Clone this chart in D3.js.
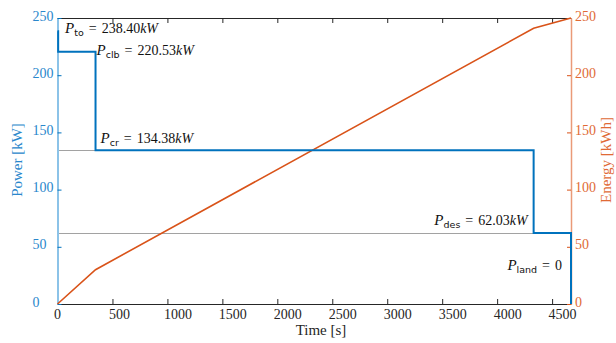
<!DOCTYPE html>
<html>
<head>
<meta charset="utf-8">
<script src="https://cdn.jsdelivr.net/npm/d3@7"></script>
<style>
  body { margin: 0; background: #fff; }
  svg text { font-family: "Liberation Serif", "Times New Roman", serif !important; }
  svg text tspan.sub { font-family: "DejaVu Sans", sans-serif !important; }
</style>
</head>
<body>
<div id="chart"></div>
<script>
// mission segments: takeoff, climb, cruise, descent, landing
const segStart = [0, 6, 346, 4332, 4672];
const segEnd = [6, 346, 4332, 4672, 4672];
const segPower = [238.40, 220.53, 134.38, 62.03, 0];
const segNames = ['to', 'clb', 'cr', 'des', 'land'];
const segLabels = ['238.40', '220.53', '134.38', '62.03', '0'];

// cumulative energy read at the segment breakpoints
const energyTime = [0, 346, 4332, 4672];
const energyValue = [0, 30, 241, 250];

const xTicks = [0, 500, 1000, 1500, 2000, 2500, 3000, 3500, 4000, 4500];
const yTicks = [0, 50, 100, 150, 200, 250];

const W = 616, H = 343;
const margin = { top: 18, right: 45, bottom: 39, left: 57.5 };
const blue = '#0072BD', orange = '#D95319', axisGray = '#262626';

const svg = d3.select('#chart').append('svg')
  .attr('width', W).attr('height', H);

const x = d3.scaleLinear().domain([0, 4672]).range([margin.left, W - margin.right]);
const yP = d3.scaleLinear().domain([0, 250]).range([H - margin.bottom, margin.top]);
const yE = d3.scaleLinear().domain([0, 250]).range([H - margin.bottom, margin.top]);

// power step line
const powerPts = [];
segPower.forEach((p, i) => {
  powerPts.push([segStart[i], p]);
  powerPts.push([segEnd[i], p]);
});

// dotted reference lines for cruise and descent
[2, 3].forEach(i => {
  svg.append('line')
    .attr('x1', x(0)).attr('x2', x(segStart[i]))
    .attr('y1', Math.round(yP(segPower[i])) + 0.5).attr('y2', Math.round(yP(segPower[i])) + 0.5)
    .attr('stroke', '#444').attr('stroke-width', 1)
    .attr('stroke-dasharray', '1,1');
});

// axes
const gBottom = svg.append('g')
  .attr('transform', `translate(0,${H - margin.bottom})`)
  .call(d3.axisBottom(x).tickValues(xTicks).tickSizeInner(-5).tickSizeOuter(0).tickFormat(d3.format('d')));
gBottom.select('.domain').attr('stroke', axisGray);
gBottom.selectAll('.tick line').attr('stroke', axisGray);
gBottom.selectAll('text')
  .attr('fill', axisGray).attr('font-size', 14)
  .attr('text-anchor', 'start').attr('x', -4).attr('y', 0).attr('dy', 15);

const gTop = svg.append('g')
  .attr('transform', `translate(0,${margin.top})`)
  .call(d3.axisTop(x).tickValues(xTicks).tickSizeInner(-5).tickSizeOuter(0).tickFormat(''));
gTop.select('.domain').attr('stroke', axisGray);
gTop.selectAll('.tick line').attr('stroke', axisGray);

const gLeft = svg.append('g')
  .attr('transform', `translate(${margin.left},0)`)
  .call(d3.axisLeft(yP).tickValues(yTicks).tickSizeInner(-4).tickSizeOuter(0));
gLeft.select('.domain').attr('stroke', '#8cc3e8').attr('stroke-width', 2);
gLeft.selectAll('.tick line').attr('stroke', blue);
gLeft.selectAll('text')
  .attr('fill', '#2a87cc').attr('font-size', 14)
  .attr('text-anchor', 'start').attr('x', -25).attr('dy', '0.15em');

const gRight = svg.append('g')
  .attr('transform', `translate(${W - margin.right},0)`)
  .call(d3.axisRight(yE).tickValues(yTicks).tickSizeInner(-4).tickSizeOuter(0));
gRight.select('.domain').attr('stroke', '#ea9a78').attr('stroke-width', 1.5);
gRight.selectAll('.tick line').attr('stroke', orange);
gRight.selectAll('text')
  .attr('fill', '#e06a35').attr('font-size', 14)
  .attr('text-anchor', 'start').attr('x', 4).attr('dy', '0.15em');

// energy line
svg.append('path')
  .datum(energyTime.map((t, i) => [t, energyValue[i]]))
  .attr('fill', 'none').attr('stroke', orange).attr('stroke-width', 1.6)
  .attr('d', d3.line().x(d => x(d[0])).y(d => yE(d[1])));

// power line
svg.append('path')
  .datum(powerPts)
  .attr('fill', 'none').attr('stroke', blue).attr('stroke-width', 2)
  .attr('d', d3.line().x(d => x(d[0])).y(d => yP(d[1])));

// annotations: anchor point in data space + pixel offset
const labelPos = [
  { t: segStart[0], p: segPower[0], dx: 7.5, dy: 2, anchor: 'start' },
  { t: segEnd[1], p: segPower[1], dx: 1, dy: 3.5, anchor: 'start' },
  { t: segStart[2], p: segPower[2], dx: 5, dy: -7.5, anchor: 'start' },
  { t: segStart[3], p: segPower[3], dx: -6, dy: -8, anchor: 'end' },
  { t: segStart[4], p: segPower[3] / 2, dx: -9, dy: 1, anchor: 'end' }
];
labelPos.forEach((l, i) => {
  const t = svg.append('text')
    .attr('x', x(l.t) + l.dx)
    .attr('y', yP(l.p) + l.dy)
    .attr('text-anchor', l.anchor)
    .attr('font-size', 14)
    .attr('fill', '#111');
  t.append('tspan').attr('font-style', 'italic').attr('font-size', 15).text('P');
  t.append('tspan').attr('class', 'sub').attr('font-size', 9.5).attr('dy', 3).text(segNames[i]);
  t.append('tspan').attr('dy', -3).attr('dx', 5).text('=');
  t.append('tspan').attr('dx', 5).text(segLabels[i]);
  if (i !== 4) t.append('tspan').attr('font-style', 'italic').text('kW');
});

// axis titles
svg.append('text')
  .attr('transform', `translate(22,160) rotate(-90)`)
  .attr('text-anchor', 'middle').attr('font-size', 15).attr('fill', '#2a87cc')
  .text('Power [kW]');
svg.append('text')
  .attr('transform', `translate(611,160) rotate(-90)`)
  .attr('text-anchor', 'middle').attr('font-size', 15).attr('fill', '#e06a35')
  .text('Energy [kWh]');
svg.append('text')
  .attr('x', 321).attr('y', 335)
  .attr('text-anchor', 'middle').attr('font-size', 15).attr('fill', axisGray)
  .text('Time [s]');
</script>
</body>
</html>
